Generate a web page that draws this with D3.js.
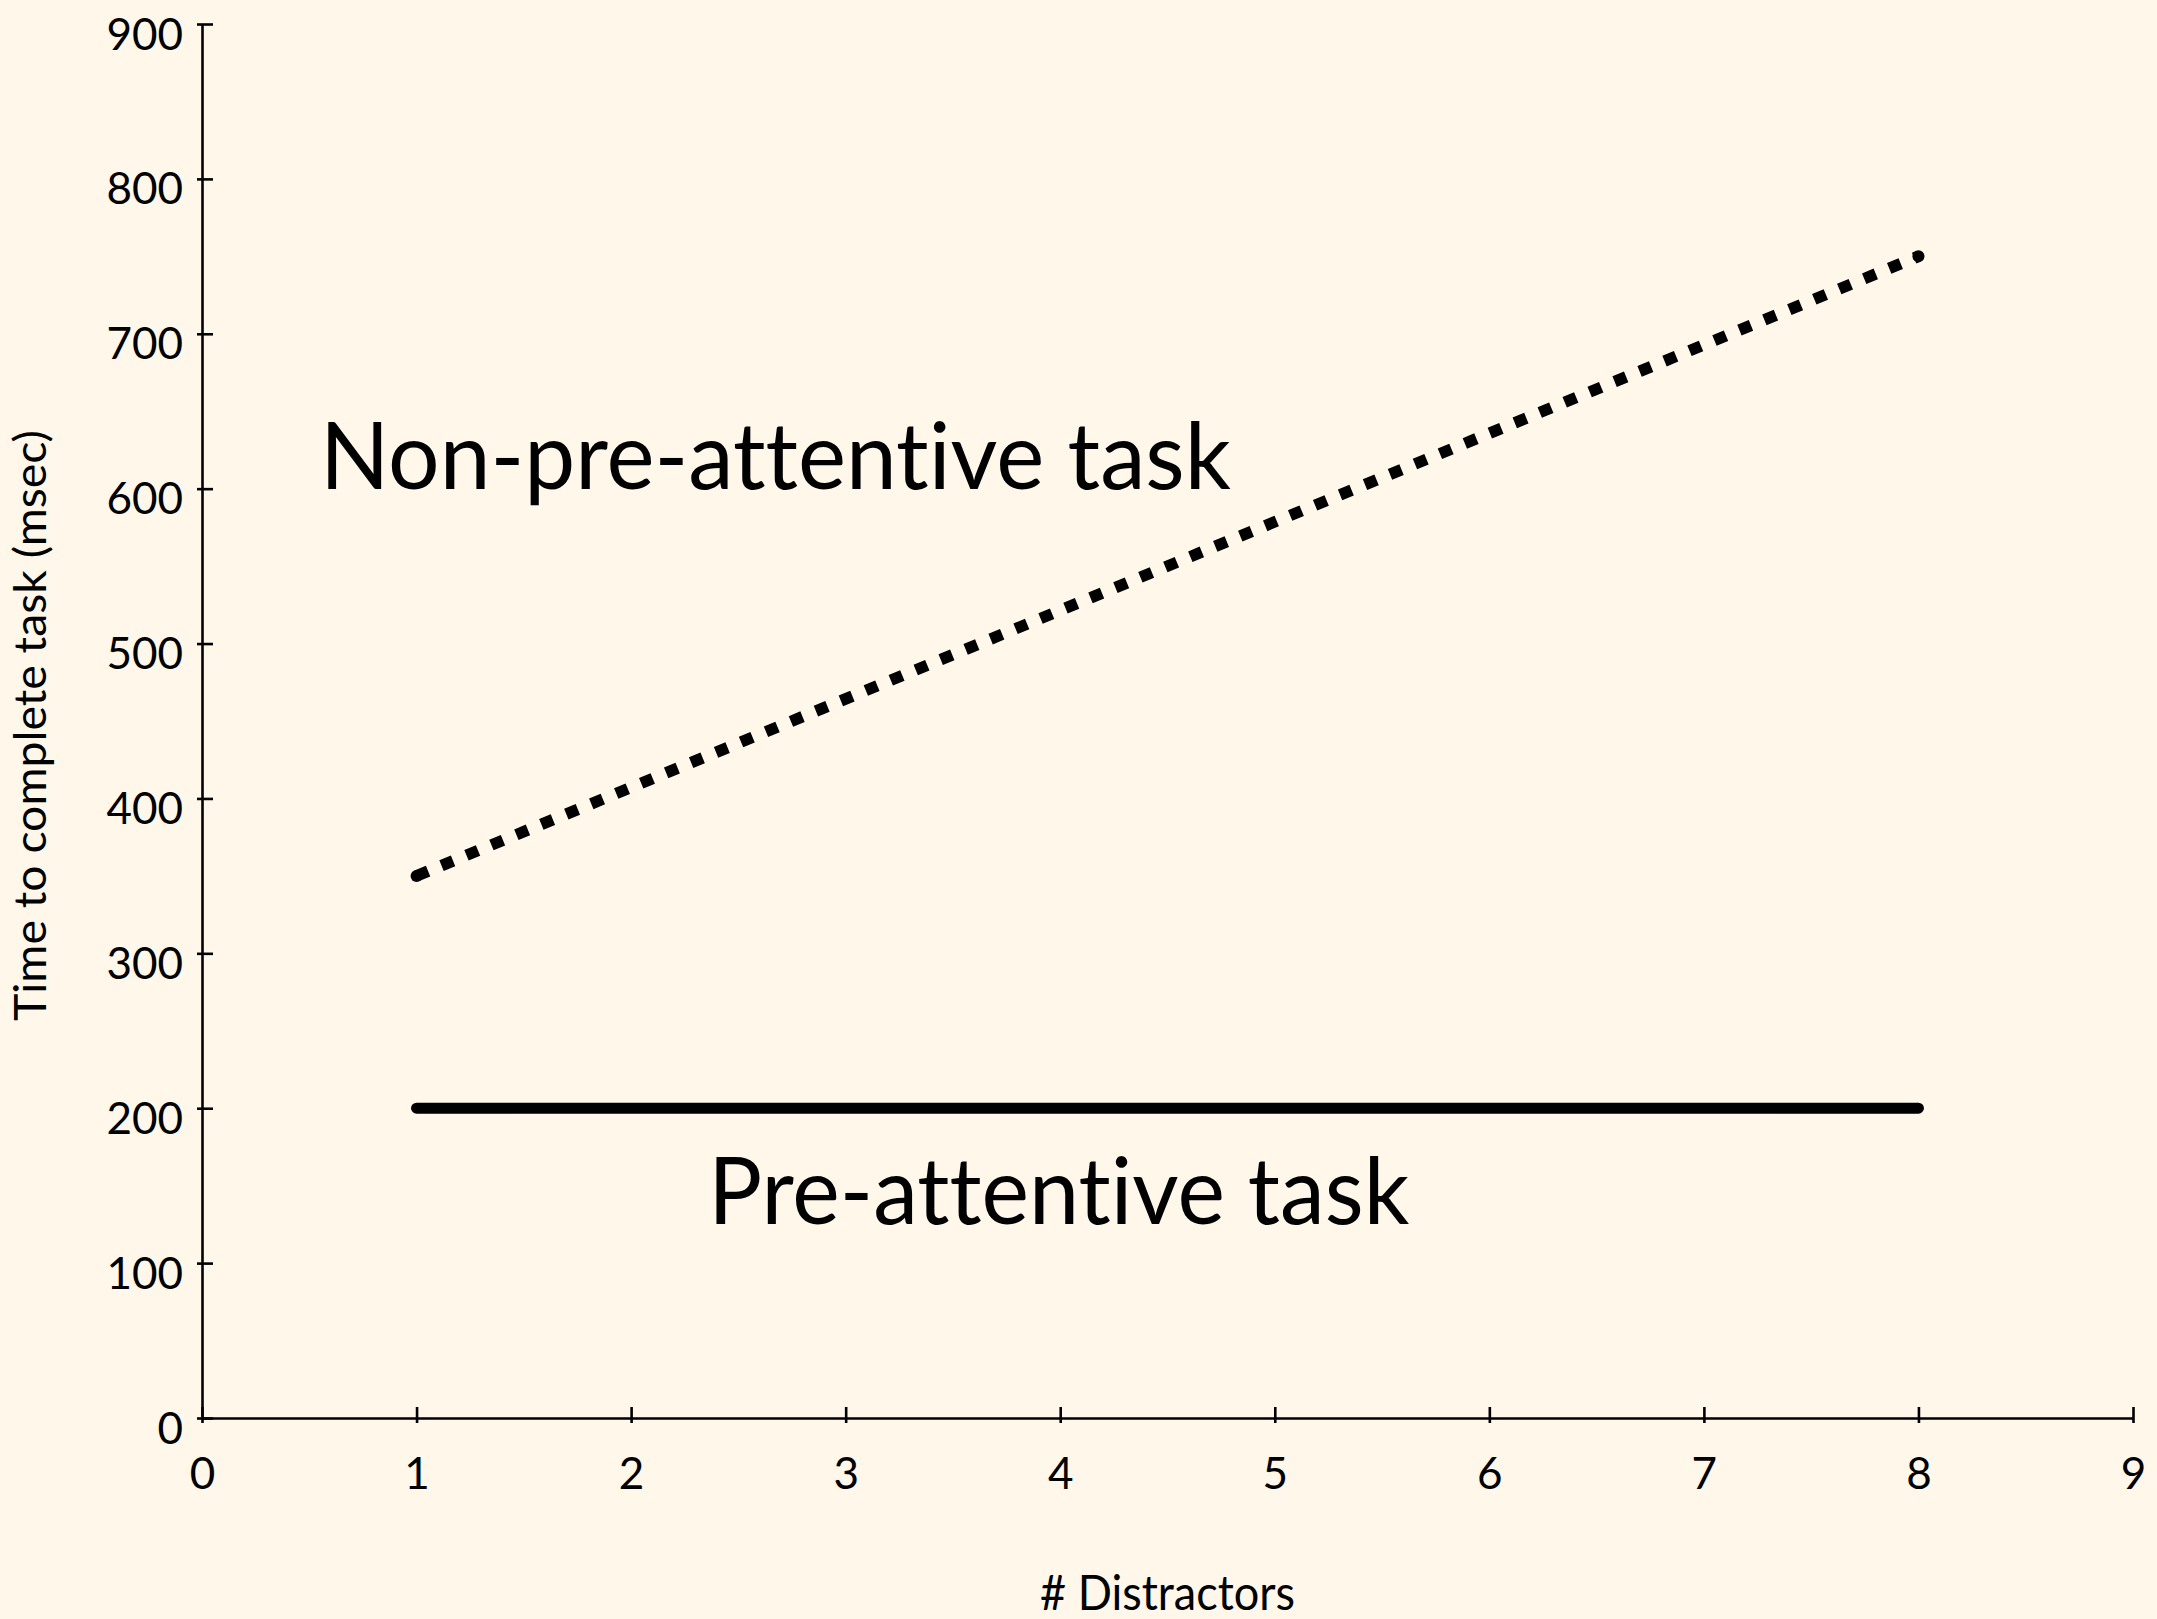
<!DOCTYPE html>
<html>
<head>
<meta charset="utf-8">
<script src="https://cdn.jsdelivr.net/npm/d3@7"></script>
<style>
  html, body { margin: 0; padding: 0; background: #fef7ea; }
  svg { display: block; }
  text { font-family: Lato, "Open Sans", sans-serif; fill: #000; font-variant-ligatures: none; font-feature-settings: "liga" 0, "clig" 0; }
</style>
</head>
<body>
<script>
// ---- data ----
const xTicks = [0, 1, 2, 3, 4, 5, 6, 7, 8, 9];
const yTicks = [0, 100, 200, 300, 400, 500, 600, 700, 800, 900];
const distractors = [1, 8];
const preAttentive = [200, 200];
const nonPreAttentive = [350, 750];
const annotations = [
  { text: "Non-pre-attentive task", x: 0.55, y: 600, len: 911 },
  { text: "Pre-attentive task", x: 2.36, y: 125, len: 701 }
];
const xTitle = "# Distractors";
const yTitle = "Time to complete task (msec)";

// ---- layout ----
const W = 2157, H = 1619;
const margin = { left: 202, top: 24, right: 24, bottom: 201 };
const iw = W - margin.left - margin.right;
const ih = H - margin.top - margin.bottom;

const svg = d3.select("body").append("svg").attr("width", W).attr("height", H);
svg.append("rect").attr("width", W).attr("height", H).attr("fill", "#fef7ea");
const g = svg.append("g").attr("transform", `translate(${margin.left},${margin.top})`);

const x = d3.scaleLinear().domain([0, 9]).range([0, iw]);
const y = d3.scaleLinear().domain([0, 900]).range([ih, 0]);

// y axis
const yAxis = g.append("g").call(d3.axisLeft(y).tickValues(yTicks).tickSize(0).tickSizeOuter(0).tickFormat(d3.format("d")));
yAxis.select(".domain").attr("stroke", "#000").attr("stroke-width", 2.6);
yAxis.selectAll(".tick").append("line").attr("x1", -5).attr("x2", 11).attr("stroke", "#000").attr("stroke-width", 2.6);
yAxis.selectAll(".tick text").attr("x", -19).attr("dy", null).attr("y", 25)
  .attr("text-anchor", "end").style("font-size", "44px").attr("font-family", null);

// x axis
const xAxis = g.append("g").attr("transform", `translate(0,${ih})`)
  .call(d3.axisBottom(x).tickValues(xTicks).tickSize(0).tickSizeOuter(0).tickFormat(d3.format("d")));
xAxis.select(".domain").attr("stroke", "#000").attr("stroke-width", 2.6);
xAxis.selectAll(".tick").append("line").attr("y1", -11).attr("y2", 5).attr("stroke", "#000").attr("stroke-width", 2.6);
xAxis.selectAll(".tick text").attr("dy", null).attr("y", 71)
  .style("font-size", "44px").attr("font-family", null);

// lines
const line = d3.line().x(d => x(d[0])).y(d => y(d[1]));
const solidData = distractors.map((d, i) => [d, preAttentive[i]]);
const dotData = distractors.map((d, i) => [d, nonPreAttentive[i]]);

g.append("path").datum(solidData).attr("d", line)
  .attr("fill", "none").attr("stroke", "#000").attr("stroke-width", 11).attr("stroke-linecap", "round");

g.append("path").datum(dotData).attr("d", line)
  .attr("fill", "none").attr("stroke", "#000").attr("stroke-width", 11.5)
  .attr("stroke-linecap", "butt").attr("stroke-dasharray", "12.5,14.5");
g.selectAll(".endcap").data(dotData).enter().append("circle")
  .attr("cx", d => x(d[0])).attr("cy", d => y(d[1])).attr("r", 6).attr("fill", "#000");

// annotations
g.selectAll(".anno").data(annotations).enter().append("text")
  .attr("x", d => x(d.x)).attr("y", d => y(d.y))
  .attr("textLength", d => d.len).attr("lengthAdjust", "spacingAndGlyphs")
  .style("font-size", "94px").text(d => d.text);

// axis titles
svg.append("text").attr("x", 1040).attr("y", 1610)
  .attr("textLength", 255).attr("lengthAdjust", "spacingAndGlyphs")
  .style("font-size", "48px").text(xTitle);
svg.append("text").attr("transform", "translate(46,1021) rotate(-90)")
  .attr("textLength", 591).attr("lengthAdjust", "spacingAndGlyphs")
  .style("font-size", "45px").text(yTitle);
</script>
</body>
</html>
